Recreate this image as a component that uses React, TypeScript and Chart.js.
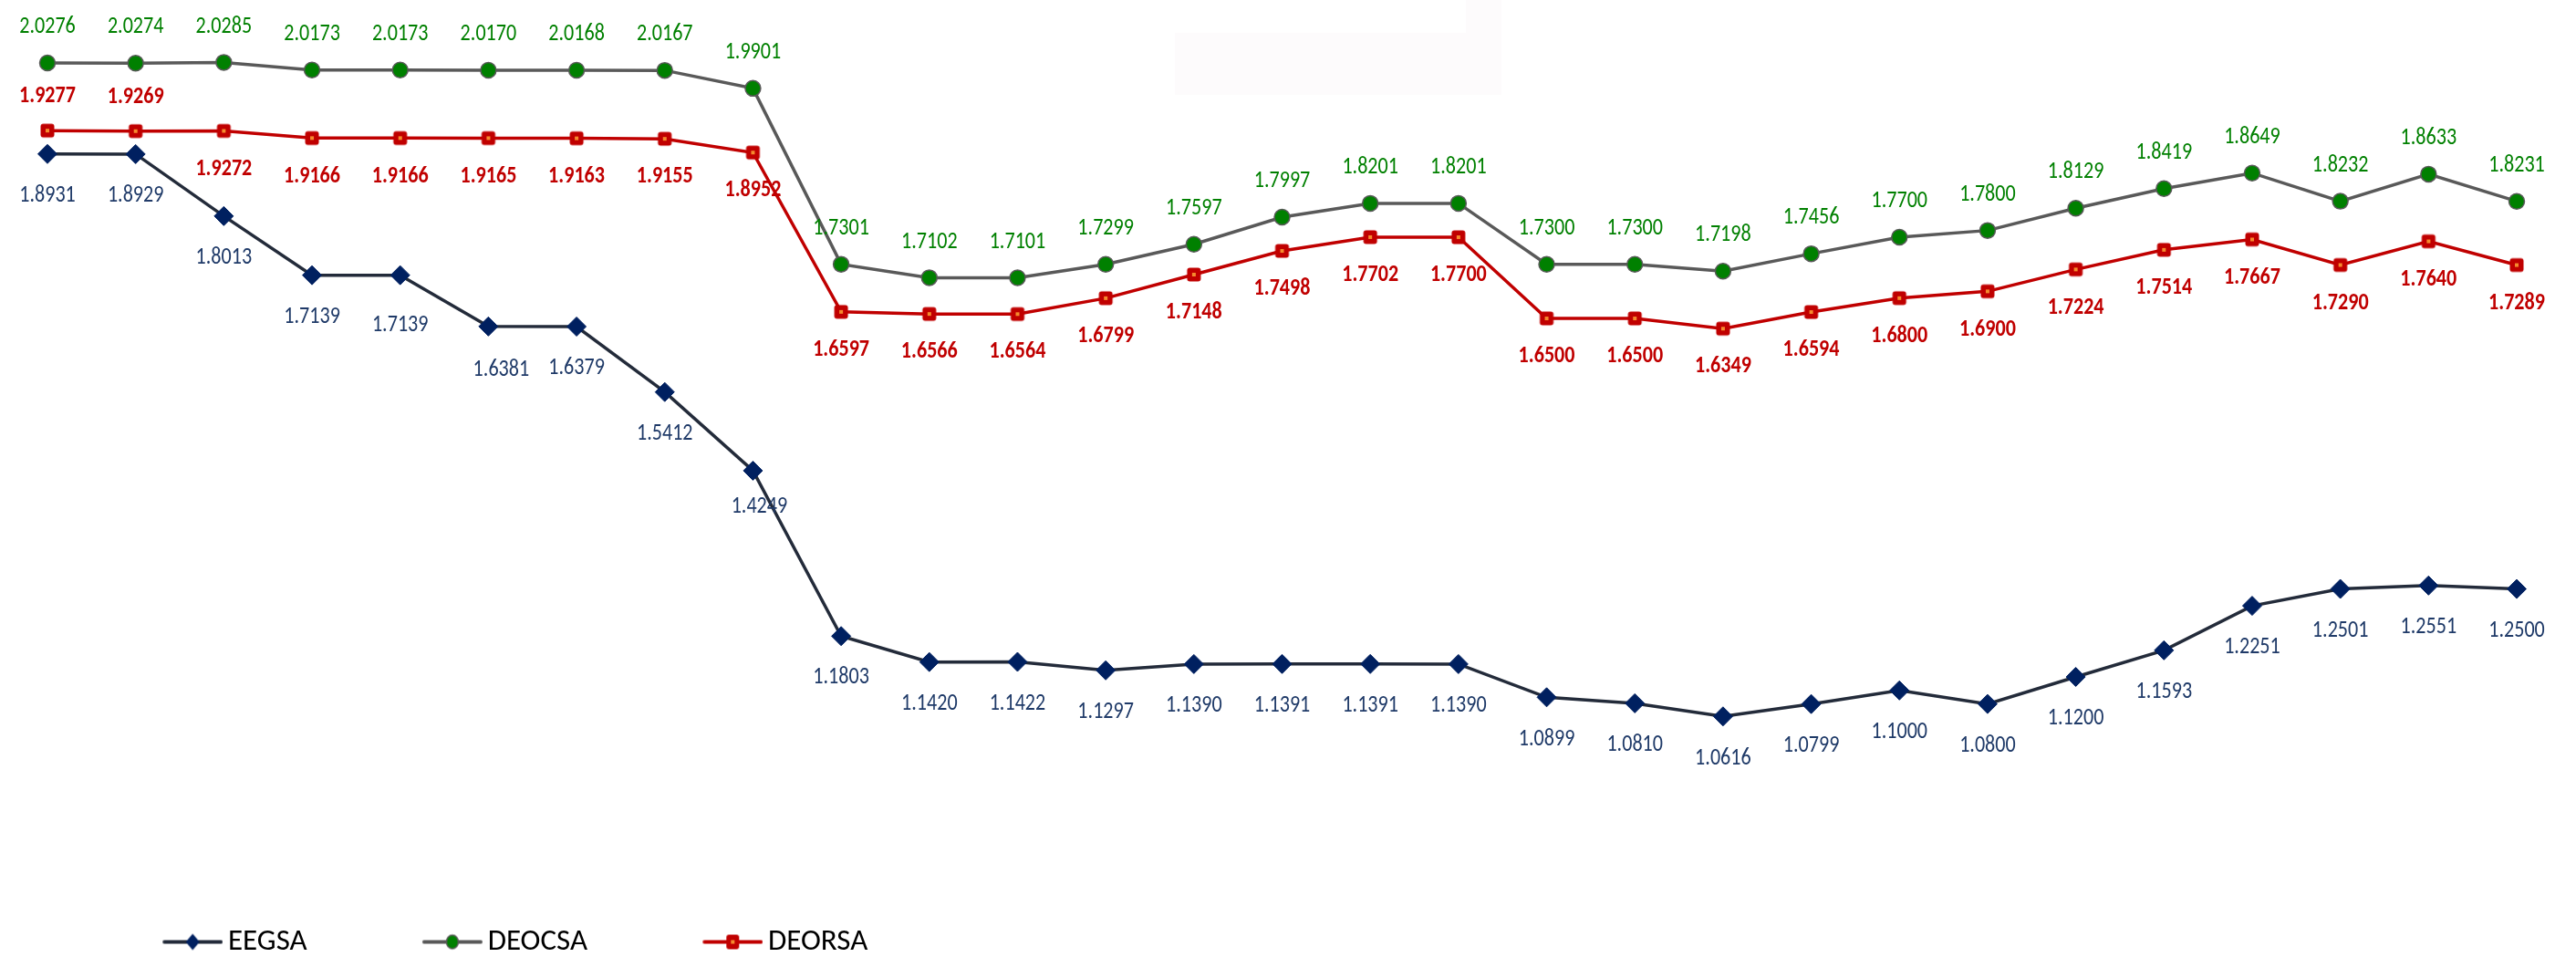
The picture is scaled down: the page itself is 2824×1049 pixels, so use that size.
import React, { useEffect, useRef } from 'react';
import { Chart, registerables } from 'chart.js';

Chart.register(...registerables);

// ---------------- data ----------------
const PERIODS = ['1', '2', '3', '4', '5', '6', '7', '8', '9', '10', '11', '12', '13', '14', '15', '16', '17', '18', '19', '20', '21', '22', '23', '24', '25', '26', '27', '28', '29'];

const SERIES_NAMES = ['EEGSA', 'DEOCSA', 'DEORSA'];

const EEGSA = [1.8931, 1.8929, 1.8013, 1.7139, 1.7139, 1.6381, 1.6379, 1.5412, 1.4249, 1.1803, 1.1420, 1.1422, 1.1297, 1.1390, 1.1391, 1.1391, 1.1390, 1.0899, 1.0810, 1.0616, 1.0799, 1.1000, 1.0800, 1.1200, 1.1593, 1.2251, 1.2501, 1.2551, 1.2500];

const DEOCSA = [2.0276, 2.0274, 2.0285, 2.0173, 2.0173, 2.0170, 2.0168, 2.0167, 1.9901, 1.7301, 1.7102, 1.7101, 1.7299, 1.7597, 1.7997, 1.8201, 1.8201, 1.7300, 1.7300, 1.7198, 1.7456, 1.7700, 1.7800, 1.8129, 1.8419, 1.8649, 1.8232, 1.8633, 1.8231];

const DEORSA = [1.9277, 1.9269, 1.9272, 1.9166, 1.9166, 1.9165, 1.9163, 1.9155, 1.8952, 1.6597, 1.6566, 1.6564, 1.6799, 1.7148, 1.7498, 1.7702, 1.7700, 1.6500, 1.6500, 1.6349, 1.6594, 1.6800, 1.6900, 1.7224, 1.7514, 1.7667, 1.7290, 1.7640, 1.7289];

// ---------------- styles ----------------
const NAVY_LINE = '#232B3A';
const NAVY_MARK = '#002060';
const NAVY_TEXT = '#1F3A68';
const GRAY_LINE = '#595959';
const GREEN = '#008000';
const RED = '#C00000';
const ORANGE = '#F58A2E';

const CANVAS_W = 2824;
const CANVAS_H = 1059;

function fontAvailable(name: string): boolean {
  const c = document.createElement('canvas').getContext('2d');
  if (!c) return false;
  const s = 'EEGSA DEOCSA 1.2345 mmmwwwiii';
  let found = false;
  ['monospace', 'serif'].forEach((fb) => {
    c.font = `40px ${fb}`;
    const a = c.measureText(s).width;
    c.font = `40px "${name}", ${fb}`;
    const b = c.measureText(s).width;
    if (Math.abs(a - b) > 0.01) found = true;
  });
  return found;
}

function pickFont() {
  const candidates = [
    { family: 'Carlito', label: 26, bold: 26, squeeze: 0.85, digitH: 0.632, legend: 33 },
    { family: 'Liberation Sans Narrow', label: 23, bold: 23, squeeze: 1, digitH: 0.716, legend: 31 },
    { family: 'DejaVu Sans Condensed', label: 22, bold: 20, squeeze: 1, digitH: 0.729, legend: 30 },
  ];
  for (const c of candidates) {
    if (fontAvailable(c.family)) return c;
  }
  return { family: 'Liberation Sans', label: 22, bold: 22, squeeze: 0.85, digitH: 0.716, legend: 30 };
}

function drawMarker(ctx: CanvasRenderingContext2D, kind: string, x: number, y: number) {
  ctx.save();
  if (kind === 'diamond') {
    ctx.fillStyle = NAVY_MARK;
    ctx.beginPath();
    ctx.moveTo(x, y - 9);
    ctx.lineTo(x + 7.5, y);
    ctx.lineTo(x, y + 9);
    ctx.lineTo(x - 7.5, y);
    ctx.closePath();
    ctx.fill();
  } else if (kind === 'circle') {
    ctx.fillStyle = GREEN;
    ctx.strokeStyle = GRAY_LINE;
    ctx.lineWidth = 1.5;
    ctx.beginPath();
    ctx.ellipse(x, y, 6.5, 7.5, 0, 0, Math.PI * 2);
    ctx.fill();
    ctx.stroke();
  } else {
    ctx.fillStyle = RED;
    const w = 14, h = 16, r = 3;
    ctx.beginPath();
    if ((ctx as any).roundRect) (ctx as any).roundRect(x - w / 2, y - h / 2, w, h, r);
    else ctx.rect(x - w / 2, y - h / 2, w, h);
    ctx.fill();
    ctx.fillStyle = ORANGE;
    ctx.fillRect(x - 2, y - 2, 4, 4);
  }
  ctx.restore();
}

function squarePointImage() {
  const s = 18;
  const cv = document.createElement('canvas');
  cv.width = s;
  cv.height = s;
  const ctx = cv.getContext('2d')!;
  ctx.fillStyle = RED;
  ctx.beginPath();
  if ((ctx as any).roundRect) (ctx as any).roundRect(1.5, 1.5, 15, 15, 3);
  else ctx.rect(1.5, 1.5, 15, 15);
  ctx.fill();
  ctx.fillStyle = ORANGE;
  ctx.fillRect(7, 7, 4, 4);
  return cv;
}

const LEGEND_LINE = 66;
const LEGEND_PAD = 10;

function legendImage(kind: string, lineColor: string, W: number) {
  const H = 30;
  const cv = document.createElement('canvas');
  cv.width = W;
  cv.height = H;
  const ctx = cv.getContext('2d')!;
  ctx.strokeStyle = lineColor;
  ctx.lineWidth = 4;
  ctx.lineCap = 'round';
  ctx.beginPath();
  ctx.moveTo(W - LEGEND_LINE + 2, H / 2);
  ctx.lineTo(W - 2, H / 2);
  ctx.stroke();
  drawMarker(ctx, kind, W - LEGEND_LINE / 2, H / 2);
  return cv;
}

export default function App() {
  const ref = useRef<HTMLCanvasElement | null>(null);

  useEffect(() => {
    if (!ref.current) return;
    const F = pickFont();
    const fam = `"${F.family}", "DejaVu Sans Condensed", sans-serif`;

    // legend geometry: line starts at x=178, text 6px after line end
    const padLeft = 52;
    const ext = F.legend / 2 - 6;
    const box = 178 - padLeft - LEGEND_PAD - ext + LEGEND_LINE;
    const imgW = Math.round(box + 2 * ext);

    const markerKinds = ['diamond', 'circle', 'square'];
    const lineColors = [NAVY_LINE, GRAY_LINE, RED];
    const legendImgs = markerKinds.map((k, i) => legendImage(k, lineColors[i], imgW));

    // label placement: dy = offset of label centre from point centre
    const labelStyle = [
      {
        color: NAVY_TEXT,
        font: `${F.label}px ${fam}`,
        size: F.label,
        place: (i: number) => {
          if (i === 4) return { dx: 0, dy: 53 };
          if (i === 5) return { dx: 14, dy: 46 };
          if (i === 8) return { dx: 7, dy: 38 };
          return { dx: 0, dy: 44 };
        },
      },
      {
        color: GREEN,
        font: `${F.label}px ${fam}`,
        size: F.label,
        place: (_i: number) => ({ dx: 0, dy: -41 }),
      },
      {
        color: RED,
        font: `bold ${F.bold}px ${fam}`,
        size: F.bold,
        place: (i: number) => (i < 2 ? { dx: 0, dy: -39 } : { dx: 0, dy: 40 }),
      },
    ];

    const valueLabels = {
      id: 'valueLabels',
      afterDatasetsDraw(chart: any) {
        const ctx: CanvasRenderingContext2D = chart.ctx;
        chart.data.datasets.forEach((ds: any, di: number) => {
          const st = labelStyle[di];
          const meta = chart.getDatasetMeta(di);
          meta.data.forEach((pt: any, i: number) => {
            const v = ds.data[i] as number;
            const p = st.place(i);
            ctx.save();
            ctx.font = st.font;
            ctx.fillStyle = st.color;
            ctx.textAlign = 'center';
            ctx.textBaseline = 'alphabetic';
            ctx.translate(pt.x + p.dx, pt.y + p.dy + st.size * F.digitH * 0.5);
            ctx.scale(F.squeeze, 1);
            ctx.fillText(v.toFixed(4), 0, 0);
            ctx.restore();
          });
        });
      },
    };

    const faintBox = {
      id: 'faintBox',
      beforeDraw(chart: any) {
        const ctx: CanvasRenderingContext2D = chart.ctx;
        ctx.save();
        ctx.fillStyle = '#FDFBFC';
        ctx.fillRect(1288, 36, 358, 68);
        ctx.fillRect(1607, 0, 39, 36);
        ctx.restore();
      },
    };

    const series = [EEGSA, DEOCSA, DEORSA];

    const chart = new Chart(ref.current, {
      type: 'line',
      data: {
        labels: PERIODS,
        datasets: [
          {
            label: SERIES_NAMES[0],
            data: series[0],
            borderColor: NAVY_LINE,
            borderWidth: 3.5,
            pointStyle: 'rectRot',
            pointRadius: 10.5,
            pointBackgroundColor: NAVY_MARK,
            pointBorderColor: NAVY_MARK,
            pointBorderWidth: 1,
            tension: 0,
            clip: false as any,
          },
          {
            label: SERIES_NAMES[1],
            data: series[1],
            borderColor: GRAY_LINE,
            borderWidth: 3.5,
            pointStyle: 'circle',
            pointRadius: 8.5,
            pointBackgroundColor: GREEN,
            pointBorderColor: GRAY_LINE,
            pointBorderWidth: 1.5,
            tension: 0,
            clip: false as any,
          },
          {
            label: SERIES_NAMES[2],
            data: series[2],
            borderColor: RED,
            borderWidth: 3.5,
            pointStyle: squarePointImage() as any,
            pointRadius: 9,
            pointBackgroundColor: RED,
            pointBorderColor: RED,
            tension: 0,
            clip: false as any,
          },
        ],
      },
      options: {
        animation: false,
        responsive: false,
        devicePixelRatio: 1,
        layout: { padding: { left: padLeft, right: 65, top: 10, bottom: 0 } },
        scales: {
          x: { type: 'category', display: false, offset: false },
          y: { display: false, min: 0.76392, max: 2.10388 },
        },
        plugins: {
          tooltip: { enabled: false },
          title: { display: false },
          legend: {
            display: true,
            position: 'bottom',
            align: 'start',
            labels: {
              usePointStyle: true,
              pointStyleWidth: box,
              padding: LEGEND_PAD,
              color: '#000000',
              font: { family: fam, size: F.legend },
              generateLabels: (ch: any) =>
                ch.data.datasets.map((ds: any, i: number) => ({
                  text: ds.label,
                  fillStyle: 'rgba(0,0,0,0)',
                  strokeStyle: 'rgba(0,0,0,0)',
                  lineWidth: 0,
                  pointStyle: legendImgs[i],
                  hidden: false,
                  datasetIndex: i,
                  fontColor: '#000000',
                })),
            },
          },
        },
      },
      plugins: [faintBox, valueLabels],
    } as any);

    return () => chart.destroy();
  }, []);

  return (
    <div
      style={{
        position: 'fixed',
        left: 0,
        top: 0,
        width: '100vw',
        height: '100vh',
        overflow: 'hidden',
        background: '#ffffff',
      }}
    >
      <canvas
        ref={ref}
        width={CANVAS_W}
        height={CANVAS_H}
        style={{ display: 'block', width: CANVAS_W + 'px', height: CANVAS_H + 'px' }}
      />
    </div>
  );
}
